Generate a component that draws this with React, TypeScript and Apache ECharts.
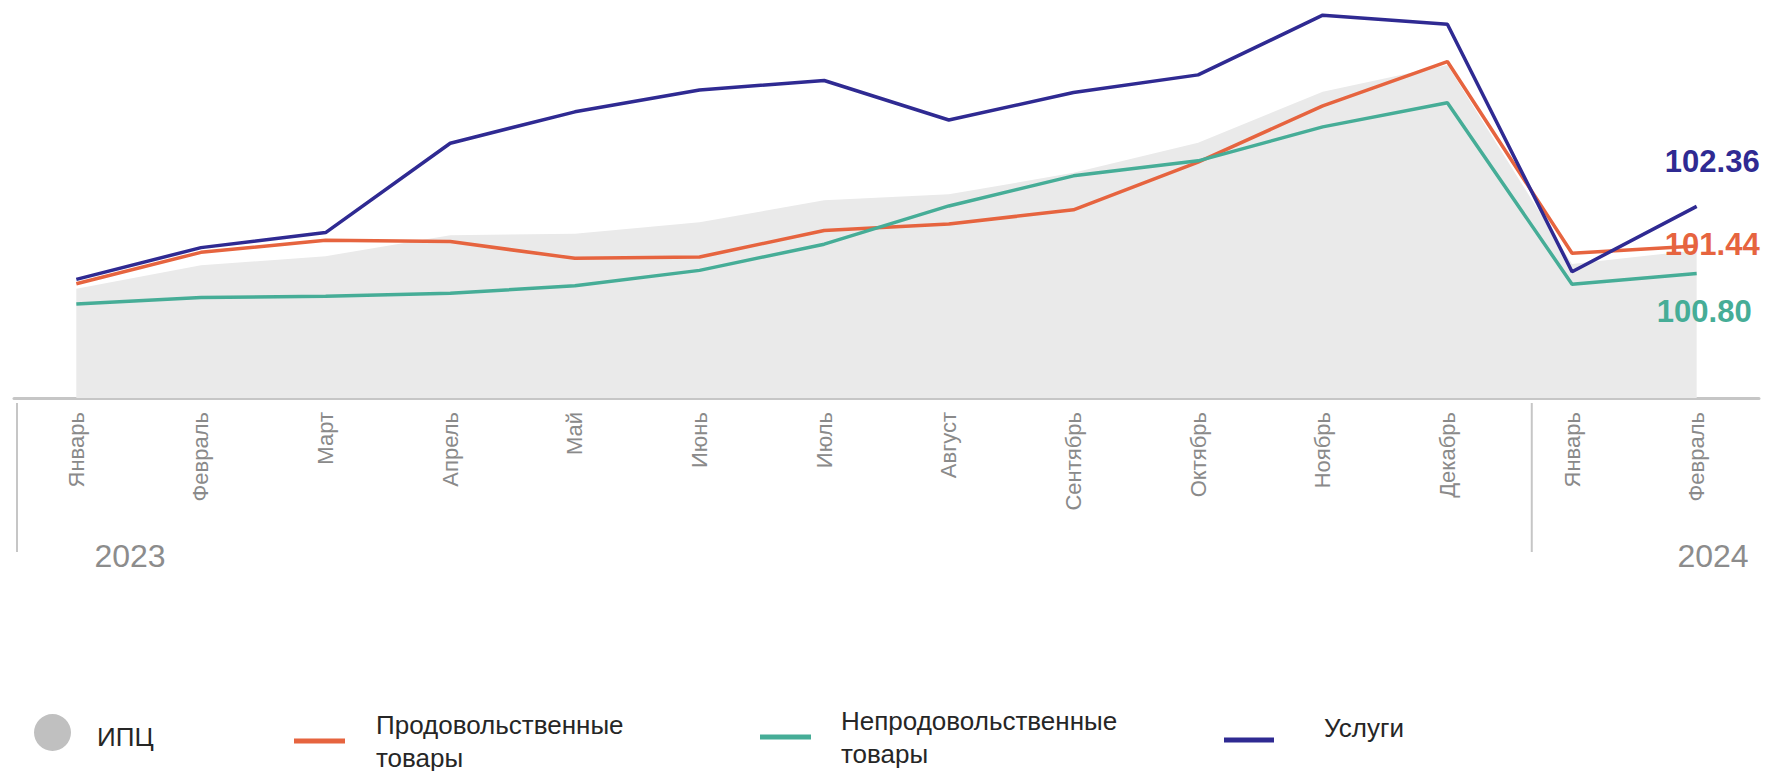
import React, { useEffect, useRef } from 'react';
import * as echarts from 'echarts';

const months = ['Январь', 'Февраль', 'Март', 'Апрель', 'Май', 'Июнь', 'Июль', 'Август', 'Сентябрь', 'Октябрь', 'Ноябрь', 'Декабрь', 'Январь', 'Февраль'];
const years = ['2023', '2024'];
const seriesNames = ['ИПЦ', 'Продовольственные товары', 'Непродовольственные товары', 'Услуги'];
const cpi = [100.44, 100.99, 101.2, 101.69, 101.72, 101.99, 102.5, 102.64, 103.14, 103.84, 105.03, 105.65, 101.02, 101.34];
const food = [100.56, 101.29, 101.57, 101.54, 101.15, 101.18, 101.8, 101.95, 102.28, 103.39, 104.7, 105.73, 101.27, 101.44];
const nonFood = [100.09, 100.24, 100.27, 100.34, 100.51, 100.87, 101.48, 102.37, 103.07, 103.42, 104.21, 104.77, 100.55, 100.8];
const services = [100.66, 101.4, 101.75, 103.83, 104.56, 105.07, 105.29, 104.37, 105.01, 105.42, 106.81, 106.6, 100.84, 102.36];

const FONT = 'Arial, "Liberation Sans", Helvetica, sans-serif';
const C_CPI_AREA = '#eaeaea';
const C_CPI_ICON = '#c0c0c0';
const C_FOOD = '#e6643f';
const C_NONFOOD = '#46ad97';
const C_SERV = '#2f2a92';
const C_AXIS = '#c6c6c6';
const C_LABEL = '#8a8a8a';
const C_TEXT = '#262626';

// legend icons: shape plus an invisible speck that stretches the icon box so the text sits lower / higher
const ICON_CIRCLE = 'path://M0,18.5a18.5,18.5 0 1,0 37,0a18.5,18.5 0 1,0 -37,0z M18.5,45.99h0.01v0.01h-0.01z';
const ICON_BAR_LOW = 'path://M0,0h0.01v0.01h-0.01z M0,24h50v5h-50z';

export default function App() {
  const ref = useRef<HTMLDivElement>(null);

  useEffect(() => {
    if (!ref.current) return;
    const chart = echarts.init(ref.current, null, { renderer: 'svg' });

    const legendText = { fontSize: 26, fontFamily: FONT, color: C_TEXT, lineHeight: 33 };
    const fmt = (n: string) => n.replace(' товары', '\nтовары');

    const option: any = {
      animation: false,
      backgroundColor: '#ffffff',
      grid: { left: 14, right: 9, top: 7, bottom: 373, containLabel: false },
      xAxis: {
        type: 'category',
        data: months,
        boundaryGap: true,
        axisLine: { show: true, onZero: false, lineStyle: { color: C_AXIS, width: 3 } },
        axisTick: { show: false },
        splitLine: { show: false },
        axisLabel: { rotate: 90, margin: 14, interval: 0, color: C_LABEL, fontSize: 22, fontFamily: FONT },
      },
      yAxis: { type: 'value', min: 97.9, max: 107, show: false, splitLine: { show: false } },
      legend: [
        {
          data: [{ name: seriesNames[0], icon: ICON_CIRCLE, itemStyle: { color: C_CPI_ICON, borderWidth: 0 } }],
          left: 34, top: 714, padding: 0, itemWidth: 37, itemHeight: 46, selectedMode: false,
          textStyle: { ...legendText, padding: [0, 0, 0, 21] },
        },
        {
          data: [{ name: seriesNames[1], icon: 'rect', itemStyle: { color: C_FOOD, borderWidth: 0 } }],
          left: 294, top: 708, padding: 0, itemWidth: 51, itemHeight: 5, selectedMode: false, formatter: fmt,
          textStyle: { ...legendText, padding: [0, 0, 0, 26] },
        },
        {
          data: [{ name: seriesNames[2], icon: 'rect', itemStyle: { color: C_NONFOOD, borderWidth: 0 } }],
          left: 760, top: 704, padding: 0, itemWidth: 51, itemHeight: 5, selectedMode: false, formatter: fmt,
          textStyle: { ...legendText, padding: [0, 0, 0, 25] },
        },
        {
          data: [{ name: seriesNames[3], icon: ICON_BAR_LOW, itemStyle: { color: C_SERV, borderWidth: 0 } }],
          left: 1224, top: 711.5, padding: 0, itemWidth: 50, itemHeight: 29, selectedMode: false,
          textStyle: { ...legendText, padding: [0, 0, 0, 45] },
        },
      ],
      series: [
        {
          name: seriesNames[0], type: 'line', data: cpi, symbol: 'none', z: 1,
          itemStyle: { color: C_CPI_ICON }, lineStyle: { width: 0, opacity: 0 },
          areaStyle: { color: C_CPI_AREA, opacity: 1 },
        },
        {
          name: seriesNames[1], type: 'line', data: food, symbol: 'none', z: 3,
          itemStyle: { color: C_FOOD }, lineStyle: { width: 3.5, color: C_FOOD },
        },
        {
          name: seriesNames[2], type: 'line', data: nonFood, symbol: 'none', z: 4,
          itemStyle: { color: C_NONFOOD }, lineStyle: { width: 3.5, color: C_NONFOOD },
        },
        {
          name: seriesNames[3], type: 'line', data: services, symbol: 'none', z: 5,
          itemStyle: { color: C_SERV }, lineStyle: { width: 3.5, color: C_SERV },
        },
      ],
    };
    chart.setOption(option);

    const last = months.length - 1;
    const ends = [
      { v: services[last], color: C_SERV, dx: 63, dy: -45 },
      { v: food[last], color: C_FOOD, dx: 63, dy: -1 },
      { v: nonFood[last], color: C_NONFOOD, dx: 55, dy: 38 },
    ];
    const graphics: any[] = ends.map((e) => {
      const p = chart.convertToPixel({ gridIndex: 0 }, [last, e.v]) as number[];
      return {
        type: 'text', x: p[0] + e.dx, y: p[1] + e.dy, z: 100,
        style: { text: e.v.toFixed(2), fill: e.color, fontSize: 31, fontWeight: 'bold', fontFamily: FONT, align: 'right', verticalAlign: 'middle' },
      };
    });
    const p11 = chart.convertToPixel({ gridIndex: 0 }, [11, 100]) as number[];
    const p12 = chart.convertToPixel({ gridIndex: 0 }, [12, 100]) as number[];
    const sepX = p11[0] + 0.677 * (p12[0] - p11[0]);
    graphics.push(
      { type: 'line', shape: { x1: 17, y1: 403, x2: 17, y2: 552 }, style: { stroke: C_AXIS, lineWidth: 2 } },
      { type: 'line', shape: { x1: sepX, y1: 403, x2: sepX, y2: 552 }, style: { stroke: C_AXIS, lineWidth: 2 } },
      { type: 'text', x: 130, y: 556, style: { text: years[0], fill: '#8c8c8c', fontSize: 32, fontFamily: FONT, align: 'center', verticalAlign: 'middle' } },
      { type: 'text', x: 1713, y: 556, style: { text: years[1], fill: '#8c8c8c', fontSize: 32, fontFamily: FONT, align: 'center', verticalAlign: 'middle' } },
    );
    chart.setOption({ graphic: graphics });

    return () => chart.dispose();
  }, []);

  return <div ref={ref} style={{ position: 'absolute', left: 0, top: 0, width: 1768, height: 771 }} />;
}
